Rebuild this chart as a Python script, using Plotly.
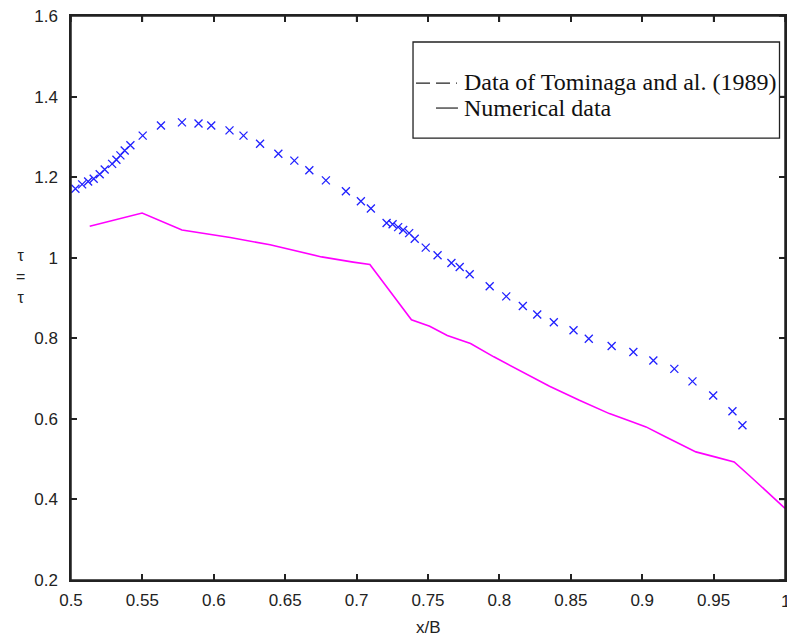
import plotly.graph_objects as go

# Tominaga et al. (1989) data (x/B, tau ratio)
tom_x = [0.5031, 0.5078, 0.5120, 0.5159, 0.5201, 0.5236, 0.5288, 0.5318, 0.5346, 0.5376,
         0.5416, 0.5502, 0.5630, 0.5777, 0.5893, 0.5982, 0.6110, 0.6208, 0.6324, 0.6452,
         0.6564, 0.6669, 0.6785, 0.6925, 0.7030, 0.7100, 0.7210, 0.7252, 0.7291, 0.7326,
         0.7368, 0.7407, 0.7484, 0.7567, 0.7664, 0.7722, 0.7792, 0.7932, 0.8048, 0.8164,
         0.8265, 0.8381, 0.8519, 0.8626, 0.8786, 0.8938, 0.9078, 0.9225, 0.9352, 0.9497,
         0.9632, 0.9702]
tom_y = [1.171, 1.182, 1.189, 1.196, 1.207, 1.219, 1.233, 1.243, 1.254, 1.266,
         1.279, 1.303, 1.328, 1.336, 1.333, 1.328, 1.316, 1.303, 1.283, 1.258,
         1.241, 1.217, 1.192, 1.165, 1.140, 1.122, 1.086, 1.083, 1.076, 1.069,
         1.061, 1.047, 1.025, 1.006, 0.987, 0.977, 0.959, 0.929, 0.904, 0.880,
         0.859, 0.840, 0.820, 0.799, 0.781, 0.766, 0.745, 0.724, 0.693, 0.658,
         0.619, 0.584]

# Numerical data
num_x = [0.5131, 0.5498, 0.5777, 0.6115, 0.6394, 0.6755, 0.6976, 0.7093, 0.7384, 0.7512,
         0.7635, 0.7798, 0.7961, 0.8113, 0.8351, 0.8560, 0.8770, 0.8933, 0.9027, 0.9166,
         0.9376, 0.9516, 0.9644, 0.9748, 1.0000]
num_y = [1.078, 1.111, 1.069, 1.050, 1.032, 1.002, 0.989, 0.983, 0.846, 0.830,
         0.807, 0.787, 0.754, 0.725, 0.681, 0.646, 0.613, 0.592, 0.580, 0.555,
         0.518, 0.505, 0.493, 0.460, 0.378]

legend_labels = ["Data of Tominaga and al. (1989)", "Numerical data"]
x_label = "x/B"
y_label = "τ<br>=<br>τ"
x_ticks = [0.5, 0.55, 0.6, 0.65, 0.7, 0.75, 0.8, 0.85, 0.9, 0.95, 1.0]
x_ticktext = ["0.5", "0.55", "0.6", "0.65", "0.7", "0.75", "0.8", "0.85", "0.9", "0.95", "1"]
y_ticks = [0.2, 0.4, 0.6, 0.8, 1.0, 1.2, 1.4, 1.6]
y_ticktext = ["0.2", "0.4", "0.6", "0.8", "1", "1.2", "1.4", "1.6"]

fig = go.Figure()
fig.add_trace(go.Scatter(
    x=tom_x, y=tom_y, mode="markers", showlegend=False,
    marker=dict(symbol="x-thin", size=8, color="#2020ff",
                line=dict(color="#2020ff", width=1.3)),
))
fig.add_trace(go.Scatter(
    x=num_x, y=num_y, mode="lines", showlegend=False,
    line=dict(color="#ff00ff", width=1.6),
))

W, H = 787, 643
PL, PR, PT, PB = 70.5, 785.5, 16, 579.7   # plot area in pixels
L, T, R, B = PL, PT, W - PR, H - PB
pw, ph = PR - PL, PB - PT


def px(xp):
    return (xp - PL) / pw


def py(yp):
    return (PB - yp) / ph


INK = "#222222"
TICKLEN = 6
LW = 1.5
tick_font = dict(family="Liberation Sans, Arial, sans-serif", size=17, color=INK)
axis_common = dict(showline=True, linecolor=INK, linewidth=LW, mirror="allticks",
                   ticks="inside", ticklen=TICKLEN, tickwidth=LW, tickcolor=INK,
                   showgrid=False, zeroline=False, tickfont=tick_font)

fig.update_xaxes(range=[0.5, 1.0], tickmode="array", tickvals=x_ticks,
                 ticktext=x_ticktext[:-1] + [""], ticklabelstandoff=4, **axis_common)
fig.update_yaxes(range=[0.2, 1.6], tickmode="array", tickvals=y_ticks, ticktext=y_ticktext,
                 ticklabelstandoff=8, **axis_common)

shapes = [dict(type="rect", xref="paper", yref="paper", x0=0, x1=1, y0=0, y1=1,
               line=dict(color=INK, width=LW), layer="above")]
for xv in x_ticks:
    shapes.append(dict(type="line", xref="x", yref="paper", x0=xv, x1=xv,
                       y0=1, y1=1 - TICKLEN / ph, line=dict(color=INK, width=LW)))
for yv in y_ticks:
    shapes.append(dict(type="line", xref="paper", yref="y", x0=1, x1=1 - TICKLEN / pw,
                       y0=yv, y1=yv, line=dict(color=INK, width=LW)))

# Legend box (drawn manually to match the original legend)
shapes += [
    dict(type="rect", xref="paper", yref="paper", x0=px(413), x1=px(780), y0=py(138), y1=py(42),
         line=dict(color=INK, width=1.3), fillcolor="white", layer="above"),
    dict(type="line", xref="paper", yref="paper", x0=px(416), x1=px(457), y0=py(83), y1=py(83),
         line=dict(color=INK, width=1.2, dash="14px,6px"), layer="above"),
    dict(type="line", xref="paper", yref="paper", x0=px(436), x1=px(458), y0=py(108), y1=py(108),
         line=dict(color=INK, width=1.2), layer="above"),
]
legend_font = dict(family="Liberation Serif, Times New Roman, serif", size=24, color="#111111")
annotations = [
    dict(text=legend_labels[0], xref="paper", yref="paper", x=px(462), y=py(82),
         xanchor="left", yanchor="middle", showarrow=False, font=legend_font),
    dict(text=legend_labels[1], xref="paper", yref="paper", x=px(462), y=py(108),
         xanchor="left", yanchor="middle", showarrow=False, font=legend_font),
    dict(text=x_label, xref="paper", yref="paper", x=0.5, y=py(627),
         xanchor="center", yanchor="middle", showarrow=False, font=tick_font),
    dict(text=x_ticktext[-1], xref="x", yref="paper", x=x_ticks[-1], y=py(601),
         xanchor="center", yanchor="middle", showarrow=False, font=tick_font),
    dict(text=y_label, xref="paper", yref="paper", x=px(20), y=py(276),
         xanchor="center", yanchor="middle", showarrow=False,
         font=dict(family="Liberation Sans, Arial, sans-serif", size=16, color=INK)),
]

fig.update_layout(
    width=W, height=H,
    margin=dict(l=L, r=R, t=T, b=B, pad=0),
    paper_bgcolor="white", plot_bgcolor="white",
    shapes=shapes, annotations=annotations,
    showlegend=False,
)

fig.write_html("out.html", config={"displayModeBar": False},
               post_script="document.body.style.margin='0';document.body.style.overflow='hidden';")
